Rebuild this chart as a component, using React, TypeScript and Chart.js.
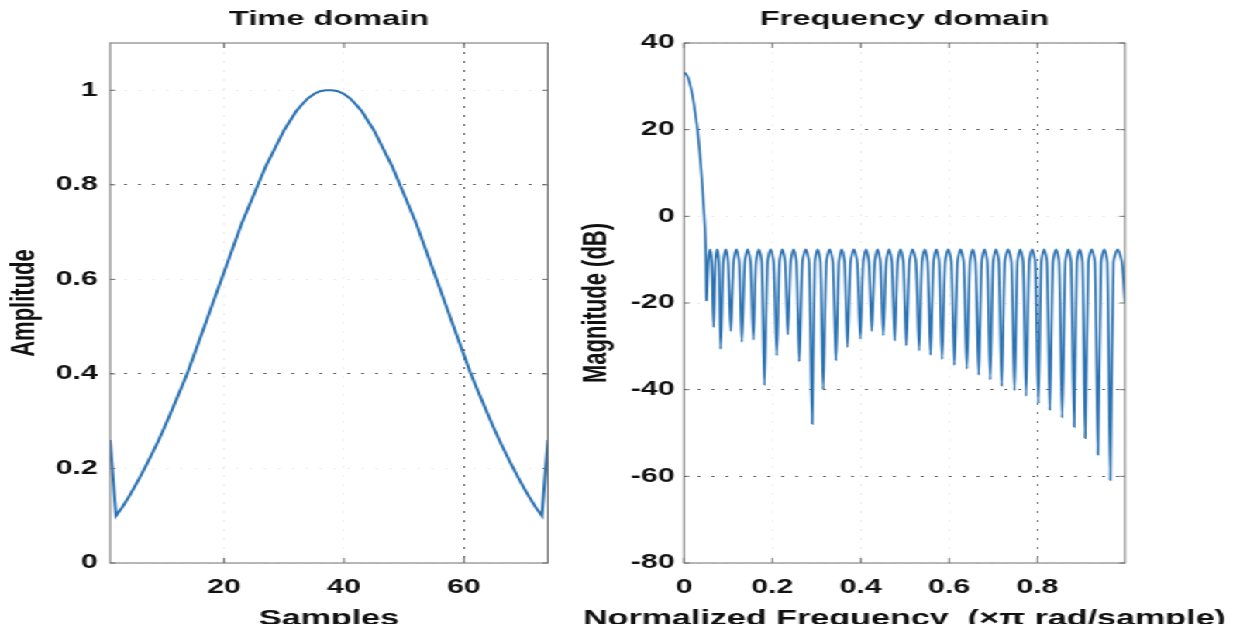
import React, { useEffect, useRef } from 'react';
import { Chart, registerables } from 'chart.js';

Chart.register(...registerables);

// ---------------- data ----------------
const sampleIndex = [
  1, 2, 3, 4, 5, 6, 7, 8, 9, 10, 11, 12, 13, 14, 15, 16, 17, 18, 19, 20,
  21, 22, 23, 24, 25, 26, 27, 28, 29, 30, 31, 32, 33, 34, 35, 36, 37, 38, 39, 40,
  41, 42, 43, 44, 45, 46, 47, 48, 49, 50, 51, 52, 53, 54, 55, 56, 57, 58, 59, 60,
  61, 62, 63, 64, 65, 66, 67, 68, 69, 70, 71, 72, 73, 74,
];
const amplitude = [
  0.26, 0.10, 0.117, 0.137, 0.159, 0.182, 0.206, 0.231, 0.257, 0.285,
  0.314, 0.344, 0.374, 0.405, 0.44, 0.475, 0.51, 0.545, 0.58, 0.615,
  0.65, 0.685, 0.72, 0.75, 0.78, 0.81, 0.84, 0.865, 0.89, 0.915,
  0.935, 0.955, 0.97, 0.983, 0.992, 0.998, 1.0, 1.0, 0.998, 0.992,
  0.983, 0.97, 0.955, 0.935, 0.915, 0.89, 0.865, 0.84, 0.81, 0.78,
  0.75, 0.72, 0.685, 0.65, 0.615, 0.58, 0.545, 0.51, 0.475, 0.44,
  0.405, 0.374, 0.344, 0.314, 0.285, 0.257, 0.231, 0.206, 0.182, 0.159,
  0.137, 0.117, 0.10, 0.26,
];

const mainLobeFreq = [0, 0.007, 0.0135, 0.02, 0.025, 0.03, 0.035, 0.04, 0.044, 0.047, 0.049];
const mainLobeDb = [33.3, 32.5, 30.5, 27.5, 24.2, 20.5, 15.5, 9.0, 3.0, -2.0, -7.6];

// each row: null, shoulder, peak, shoulder
const sidelobeFreq = [
  0.051, 0.055, 0.059, 0.063,
  0.067, 0.071, 0.075, 0.079,
  0.083, 0.089, 0.0945, 0.100,
  0.106, 0.112, 0.1185, 0.125,
  0.131, 0.1375, 0.144, 0.1505,
  0.157, 0.163, 0.1695, 0.176,
  0.182, 0.189, 0.196, 0.203,
  0.210, 0.216, 0.2225, 0.229,
  0.235, 0.2415, 0.248, 0.2545,
  0.261, 0.268, 0.2755, 0.283,
  0.290, 0.296, 0.3025, 0.309,
  0.315, 0.322, 0.3295, 0.337,
  0.344, 0.3505, 0.357, 0.3635,
  0.370, 0.377, 0.3845, 0.392,
  0.399, 0.4055, 0.412, 0.4185,
  0.425, 0.4315, 0.438, 0.4445,
  0.451, 0.4575, 0.464, 0.4705,
  0.477, 0.4835, 0.490, 0.4965,
  0.503, 0.510, 0.5175, 0.525,
  0.532, 0.5385, 0.545, 0.5515,
  0.558, 0.5645, 0.571, 0.5775,
  0.584, 0.591, 0.598, 0.605,
  0.612, 0.619, 0.626, 0.633,
  0.640, 0.647, 0.6535, 0.660,
  0.667, 0.6735, 0.680, 0.6865,
  0.693, 0.6995, 0.706, 0.7125,
  0.719, 0.726, 0.7335, 0.741,
  0.748, 0.7545, 0.761, 0.7675,
  0.774, 0.781, 0.788, 0.795,
  0.802, 0.8085, 0.815, 0.8215,
  0.828, 0.835, 0.842, 0.849,
  0.856, 0.863, 0.8695, 0.876,
  0.883, 0.889, 0.8955, 0.902,
  0.908, 0.915, 0.9225, 0.930,
  0.937, 0.944, 0.951, 0.958,
  0.965, 0.972, 0.9815, 0.991,
  0.998,
];
const sidelobeDb = [
  -19.4, -10.6, -7.6, -10.6,
  -25.6, -10.6, -7.6, -10.6,
  -30.6, -10.6, -7.6, -10.6,
  -26.5, -10.6, -7.6, -10.6,
  -29.0, -10.6, -7.6, -10.6,
  -28.5, -10.6, -7.6, -10.6,
  -39.0, -10.6, -7.6, -10.6,
  -32.1, -10.6, -7.6, -10.6,
  -27.3, -10.6, -7.6, -10.6,
  -33.5, -10.6, -7.6, -10.6,
  -47.9, -10.6, -7.6, -10.6,
  -40.0, -10.6, -7.6, -10.6,
  -33.3, -10.6, -7.6, -10.6,
  -30.2, -10.6, -7.6, -10.6,
  -28.3, -10.6, -7.6, -10.6,
  -26.5, -10.6, -7.6, -10.6,
  -27.5, -10.6, -7.6, -10.6,
  -28.7, -10.6, -7.6, -10.6,
  -29.8, -10.6, -7.6, -10.6,
  -31.0, -10.6, -7.6, -10.6,
  -32.0, -10.6, -7.6, -10.6,
  -33.0, -10.6, -7.6, -10.6,
  -34.3, -10.6, -7.6, -10.6,
  -35.2, -10.6, -7.6, -10.6,
  -36.6, -10.6, -7.6, -10.6,
  -37.7, -10.6, -7.6, -10.6,
  -39.2, -10.6, -7.6, -10.6,
  -40.2, -10.6, -7.6, -10.6,
  -41.5, -10.6, -7.6, -10.6,
  -43.2, -10.6, -7.6, -10.6,
  -44.8, -10.6, -7.6, -10.6,
  -46.5, -10.6, -7.6, -10.6,
  -48.6, -10.6, -7.6, -10.6,
  -51.2, -10.6, -7.6, -10.6,
  -55.0, -10.6, -7.6, -10.6,
  -60.9, -10.6, -7.6, -10.6,
  -20.0,
];

const timeXTicks = [20, 40, 60];
const timeXTickLabels = ['20', '40', '60'];
const timeYTicks = [0, 0.2, 0.4, 0.6, 0.8, 1];
const timeYTickLabels = ['0', '0.2', '0.4', '0.6', '0.8', '1'];
const freqXTicks = [0, 0.2, 0.4, 0.6, 0.8];
const freqXTickLabels = ['0', '0.2', '0.4', '0.6', '0.8'];
const freqYTicks = [-80, -60, -40, -20, 0, 20, 40];
const freqYTickLabels = ['-80', '-60', '-40', '-20', '0', '20', '40'];

// ---------------- style ----------------
const SX = 1.55;
const FONT = '"Liberation Sans", Arial, Helvetica, sans-serif';
const LINE_COLOR = '#2b72b2';
const STRONG_GRID = '#666666';
const FAINT_GRID = '#eeeeee';
const BOX_COLOR = '#6e6e6e';
const TEXT_COLOR = '#111111';

const framePlugin = {
  id: 'frame',
  afterDraw(chart: any, _args: any, opts: any) {
    const { ctx, chartArea: a, scales } = chart;
    ctx.save();
    ctx.strokeStyle = BOX_COLOR;
    ctx.lineWidth = 1;
    ctx.beginPath();
    scales.x.ticks.forEach((t: any) => {
      const px = scales.x.getPixelForValue(t.value);
      ctx.moveTo(px, a.bottom);
      ctx.lineTo(px, a.bottom - 5);
      ctx.moveTo(px, a.top);
      ctx.lineTo(px, a.top + 5);
    });
    scales.y.ticks.forEach((t: any) => {
      const py = scales.y.getPixelForValue(t.value);
      ctx.moveTo(a.left, py);
      ctx.lineTo(a.left + 3.5, py);
      ctx.moveTo(a.right, py);
      ctx.lineTo(a.right - 3.5, py);
    });
    ctx.stroke();
    ctx.strokeRect(a.left, a.top, a.right - a.left, a.bottom - a.top);

    ctx.fillStyle = TEXT_COLOR;
    ctx.font = `bold 22px ${FONT}`;
    ctx.textAlign = 'center';
    ctx.textBaseline = 'middle';
    ctx.fillText(opts.xTitle, (a.left + a.right) / 2, opts.xTitleY);
    ctx.translate(opts.yTitleX, (a.top + a.bottom) / 2);
    ctx.rotate(-Math.PI / 2);
    ctx.fillText(opts.yTitle, 0, 0);
    ctx.restore();
  },
};

interface PanelSpec {
  points: { x: number; y: number }[];
  lineWidth: number;
  tension: number;
  title: string;
  xTitle: string;
  yTitle: string;
  yTitleX: number;
  yAxisWidth: number;
  padRight: number;
  xMin: number;
  xMax: number;
  yMin: number;
  yMax: number;
  xTicks: number[];
  xLabels: string[];
  yTicks: number[];
  yLabels: string[];
  xStrong: number[];
  yStrong: number[];
  yLabelPad: number;
}

function makeConfig(p: PanelSpec): any {
  const tickFont = { family: FONT, size: 19.5, weight: 'bold' as const };
  return {
    type: 'scatter',
    data: {
      datasets: [
        {
          data: p.points,
          showLine: true,
          borderColor: LINE_COLOR,
          backgroundColor: LINE_COLOR,
          borderWidth: p.lineWidth,
          pointRadius: 0,
          tension: p.tension,
          fill: false,
        },
      ],
    },
    options: {
      animation: false,
      responsive: false,
      maintainAspectRatio: false,
      events: [],
      layout: { padding: { left: 0, right: p.padRight, top: 0, bottom: 0 } },
      plugins: {
        legend: { display: false },
        tooltip: { enabled: false },
        title: {
          display: true,
          text: p.title,
          fullSize: false,
          color: TEXT_COLOR,
          font: { family: FONT, size: 21, weight: 'bold' },
          padding: { top: 6.4, bottom: 11.4 },
        },
        frame: { xTitle: p.xTitle, yTitle: p.yTitle, yTitleX: p.yTitleX, xTitleY: 619 },
      },
      scales: {
        x: {
          type: 'linear',
          min: p.xMin,
          max: p.xMax,
          afterFit: (s: any) => {
            s.height = 61;
          },
          afterBuildTicks: (s: any) => {
            s.ticks = p.xTicks.map((v) => ({ value: v }));
          },
          ticks: {
            autoSkip: false,
            maxRotation: 0,
            padding: 13,
            color: TEXT_COLOR,
            font: tickFont,
            callback: (_v: any, i: number) => p.xLabels[i],
          },
          grid: {
            drawTicks: false,
            lineWidth: 1,
            color: (c: any) => (c.tick && p.xStrong.includes(c.tick.value) ? STRONG_GRID : FAINT_GRID),
          },
          border: { display: false, dash: [2, 7] },
        },
        y: {
          type: 'linear',
          min: p.yMin,
          max: p.yMax,
          afterFit: (s: any) => {
            s.width = p.yAxisWidth;
          },
          afterBuildTicks: (s: any) => {
            s.ticks = p.yTicks.map((v) => ({ value: v }));
          },
          ticks: {
            autoSkip: false,
            padding: p.yLabelPad,
            color: TEXT_COLOR,
            font: tickFont,
            callback: (_v: any, i: number) => p.yLabels[i],
          },
          grid: {
            drawTicks: false,
            lineWidth: 1,
            color: (c: any) => (c.tick && p.yStrong.includes(c.tick.value) ? STRONG_GRID : FAINT_GRID),
          },
          border: { display: false, dash: [2, 7] },
        },
      },
    },
    plugins: [framePlugin],
  };
}

function Panel({ left, width, spec }: { left: number; width: number; spec: PanelSpec }) {
  const ref = useRef<HTMLCanvasElement>(null);
  useEffect(() => {
    if (!ref.current) return;
    const chart = new Chart(ref.current, makeConfig(spec));
    return () => chart.destroy();
  }, []);
  return (
    <canvas
      ref={ref}
      width={width}
      height={624}
      style={{ position: 'absolute', left, top: 0, width, height: 624 }}
    />
  );
}

const timePoints = sampleIndex.map((s, i) => ({ x: s, y: amplitude[i] }));
const freqPoints = [
  ...mainLobeFreq.map((f, i) => ({ x: f, y: mainLobeDb[i] })),
  ...sidelobeFreq.map((f, i) => ({ x: f, y: sidelobeDb[i] })),
];

const timeSpec: PanelSpec = {
  points: timePoints,
  lineWidth: 2,
  tension: 0,
  title: 'Time domain',
  xTitle: 'Samples',
  yTitle: 'Amplitude',
  yTitleX: 16,
  yAxisWidth: 71,
  padRight: 7.5,
  xMin: 1,
  xMax: 74,
  yMin: 0,
  yMax: 1.1,
  xTicks: timeXTicks,
  xLabels: timeXTickLabels,
  yTicks: timeYTicks,
  yLabels: timeYTickLabels,
  xStrong: [60],
  yStrong: [0.8, 0.4],
  yLabelPad: 8,
};

const freqSpec: PanelSpec = {
  points: freqPoints,
  lineWidth: 1.6,
  tension: 0.25,
  title: 'Frequency domain',
  xTitle: 'Normalized Frequency  (\u00d7\u03c0 rad/sample)',
  yTitle: 'Magnitude (dB)',
  yTitleX: 21,
  yAxisWidth: 77.3,
  padRight: 74.2,
  xMin: 0,
  xMax: 0.998,
  yMin: -80,
  yMax: 40,
  xTicks: freqXTicks,
  xLabels: freqXTickLabels,
  yTicks: freqYTicks,
  yLabels: freqYTickLabels,
  xStrong: [0.8],
  yStrong: [20, -40, -60],
  yLabelPad: 6,
};

export default function App() {
  return (
    <div
      style={{
        position: 'fixed',
        left: 0,
        top: 0,
        width: 800,
        height: 624,
        overflow: 'hidden',
        background: '#ffffff',
        transform: `scaleX(${SX})`,
        transformOrigin: '0 0',
      }}
    >
      <Panel left={0} width={361} spec={timeSpec} />
      <Panel left={364} width={436} spec={freqSpec} />
    </div>
  );
}
